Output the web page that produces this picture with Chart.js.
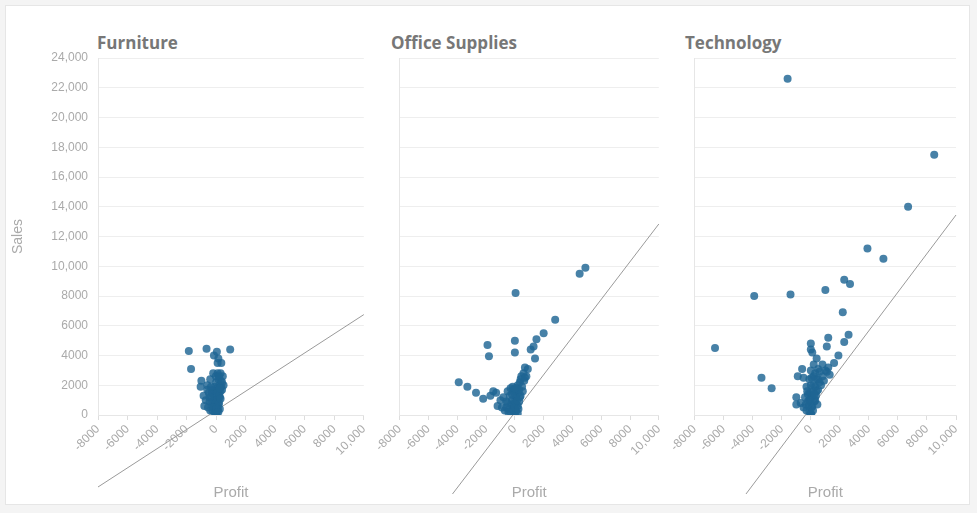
<!DOCTYPE html>
<html>
<head>
<style>
  body, html { margin: 0; height: 100%; background: #f4f4f4; font-family: "Source Sans Pro", "Open Sans", sans-serif; }
  #card { position: absolute; left: 5px; top: 5px; width: 965px; height: 500px; background: #fff; border: 1px solid #e6e6e6; box-sizing: border-box; }
  canvas { position: absolute; top: 0; }
  .ttl { position: absolute; top: 25px; font-size: 17px; font-weight: bold; color: #777; }
</style>
<script src="https://cdn.jsdelivr.net/npm/chart.js"></script>
</head>
<body>
<div id="card">
  <div class="ttl" style="left:91px">Furniture</div>
  <div class="ttl" style="left:385px">Office Supplies</div>
  <div class="ttl" style="left:679px">Technology</div>
  <div id="w1" style="position:absolute;left:0;top:0;width:370px;height:500px"><canvas id="c1"></canvas></div>
  <div id="w2" style="position:absolute;left:370px;top:0;width:295px;height:500px"><canvas id="c2"></canvas></div>
  <div id="w3" style="position:absolute;left:665px;top:0;width:298px;height:500px"><canvas id="c3"></canvas></div>
</div>
<script>
const categories = ["Furniture", "Office Supplies", "Technology"];
const xTicks = [-8000, -6000, -4000, -2000, 0, 2000, 4000, 6000, 8000, 10000];
const yTicks = [0, 2000, 4000, 6000, 8000, 10000, 12000, 14000, 16000, 18000, 20000, 22000, 24000];

// [profit, sales]
const furniturePts = [
  [-1850,4300],[-1700,3100],[-650,4450],[-150,4000],[50,4250],[150,3800],[100,3500],[350,3500],[950,4400],
  [-1000,2300],[-1050,1900],[-850,1300],[-800,600],[-400,2400],[-200,2800],[100,2800],[300,2800],[450,2600],
  [500,2000],[400,1700],[-600,2000],[-500,1500],[-450,900],[-350,1200],[-300,600],[-250,300],[-200,1700],
  [-150,1000],[-100,500],[-50,200],[0,100],[0,1300],[0,2200],[50,600],[80,1800],[100,1100],[120,400],
  [150,2400],[180,1500],[200,800],[220,2000],[250,1200],[300,1600],[320,2300],[350,1900],[60,300],[30,50],
  [-600,1700],[-700,1000],[-550,500],[-20,2600],[200,2600],[250,400],[-400,300],[0,700],[400,2200],
  [-300,1500],[-250,800],[-150,1300],[-100,1900],[-50,900],[0,1600],[50,1000],[100,1500],[150,700],
  [200,1300],[250,1800],[300,1100],[-350,1900],[-200,500],[-100,150],[20,400],[150,200],[-450,1200]
];
const officePts = [
  [-3900,2200],[-3300,1900],[-2700,1500],[-1900,4700],[-1800,3950],[-2200,1100],[-1500,1600],[-1300,1500],
  [-1000,1000],[-800,1200],[-500,800],[-300,1800],[0,4200],[0,5000],[50,8200],[-100,1700],[200,2000],
  [400,2400],[600,2800],[700,3200],[900,3100],[1100,4400],[1300,4600],[1400,3800],[1500,5100],[2000,5500],
  [2800,6400],[4500,9500],[4900,9900],[800,2600],[-1700,1300],[-1200,600],[-900,500],[-700,300],[-600,900],
  [-400,400],[-300,200],[-200,1000],[-100,600],[-50,100],[0,300],[0,1400],[50,800],[100,1200],[100,300],
  [150,1800],[200,600],[250,1500],[300,900],[350,2200],[400,1300],[500,1900],[550,1600],[650,2300],[30,50],
  [-500,1600],[-150,1900],[450,2600],[700,2500],[200,100],
  [-250,700],[-150,400],[-50,500],[0,900],[50,1600],[100,700],[150,1000],[250,400],[300,1700],[350,1200],
  [-350,1300],[-200,1400],[0,1800],[-600,500],[-450,200]
];
const techPts = [
  [-1600,22600],[8500,17500],[6700,14000],[3900,11200],[5000,10500],[2300,9100],[2700,8800],[1000,8400],
  [-3900,8000],[-1400,8100],[2200,6900],[-6600,4500],[-3400,2500],[-2700,1800],[2600,5400],[2300,4900],
  [1200,5200],[1100,4600],[1900,4000],[0,4800],[0,4400],[100,4200],[-600,3100],[-900,2600],[-500,2500],
  [-1000,1200],[-1000,700],[1600,3500],[1200,3200],[800,3400],[500,3100],[1300,2700],[600,2200],[-300,1900],
  [-200,1400],[-700,800],[-500,500],[-300,300],[-200,900],[-100,200],[0,100],[0,1100],[0,2000],[0,3000],
  [100,600],[150,1600],[200,2600],[250,900],[300,1900],[350,1300],[400,2400],[450,700],[500,1700],[600,2900],
  [700,2000],[800,2600],[900,2300],[1000,3000],[-400,1200],[-100,2400],[200,3400],[400,3800],[30,40],[1100,2900],
  [-150,600],[-50,1500],[50,500],[100,1300],[150,300],[200,2000],[300,1000],[300,2800],[400,1600],[500,2400],
  [-250,1600],[-100,1000],[50,2500],[250,1400],[-350,700]
];
// trend lines: [profit, sales] end points
const furnitureTrend = [[-8000,-4840],[10000,6750]];
const officeTrend = [[-4333,-5310],[10000,12840]];
const techTrend = [[-4467,-5310],[10000,13445]];

const grey = '#aaa';
function fmt(v) { return Math.abs(v) >= 10000 ? v.toLocaleString('en-US') : String(v); }
function toXY(a) { return a.map(p => ({x: p[0], y: p[1]})); }

function makeChart(id, pts, trend, first, yWidth, padRight) {
  new Chart(document.getElementById(id), {
    type: 'scatter',
    data: {
      datasets: [
        { data: toXY(pts), backgroundColor: 'rgba(31,101,148,0.82)', borderWidth: 0, pointRadius: 4 },
        { type: 'line', data: toXY(trend), borderColor: '#9a9a9a', borderWidth: 1, pointRadius: 0, clip: false }
      ]
    },
    options: {
      responsive: true, maintainAspectRatio: false, animation: false,
      layout: { padding: { top: 52, right: padRight, left: 0, bottom: 0 } },
      plugins: { legend: { display: false }, tooltip: { enabled: false } },
      scales: {
        x: {
          type: 'linear', min: -8000, max: 10000,
          afterBuildTicks: s => { s.ticks = xTicks.map(v => ({value: v})); },
          afterFit: s => { s.height = 91; },
          ticks: { color: grey, font: { size: 12 }, maxRotation: 45, minRotation: 45, callback: fmt, padding: 2 },
          grid: { drawOnChartArea: false, color: '#ddd', tickLength: 5 },
          border: { color: '#e6e6e6' },
          title: { display: true, text: 'Profit', color: grey, font: { size: 15 }, padding: { top: 0 } }
        },
        y: {
          min: 0, max: 24000,
          afterBuildTicks: s => { s.ticks = yTicks.map(v => ({value: v})); },
          afterFit: s => { s.width = yWidth; },
          ticks: { display: first, color: grey, font: { size: 12 }, callback: fmt, padding: 10 },
          grid: { color: '#eeeeee', drawTicks: false },
          border: { color: '#e6e6e6' },
          title: { display: first, text: 'Sales', color: grey, font: { size: 14 }, padding: { bottom: 0 } }
        }
      }
    }
  });
}
makeChart('c1', furniturePts, furnitureTrend, true, 92, 1);
makeChart('c2', officePts, officeTrend, false, 13, 5);
makeChart('c3', techPts, techTrend, false, 11, 13);
</script>
</body>
</html>
